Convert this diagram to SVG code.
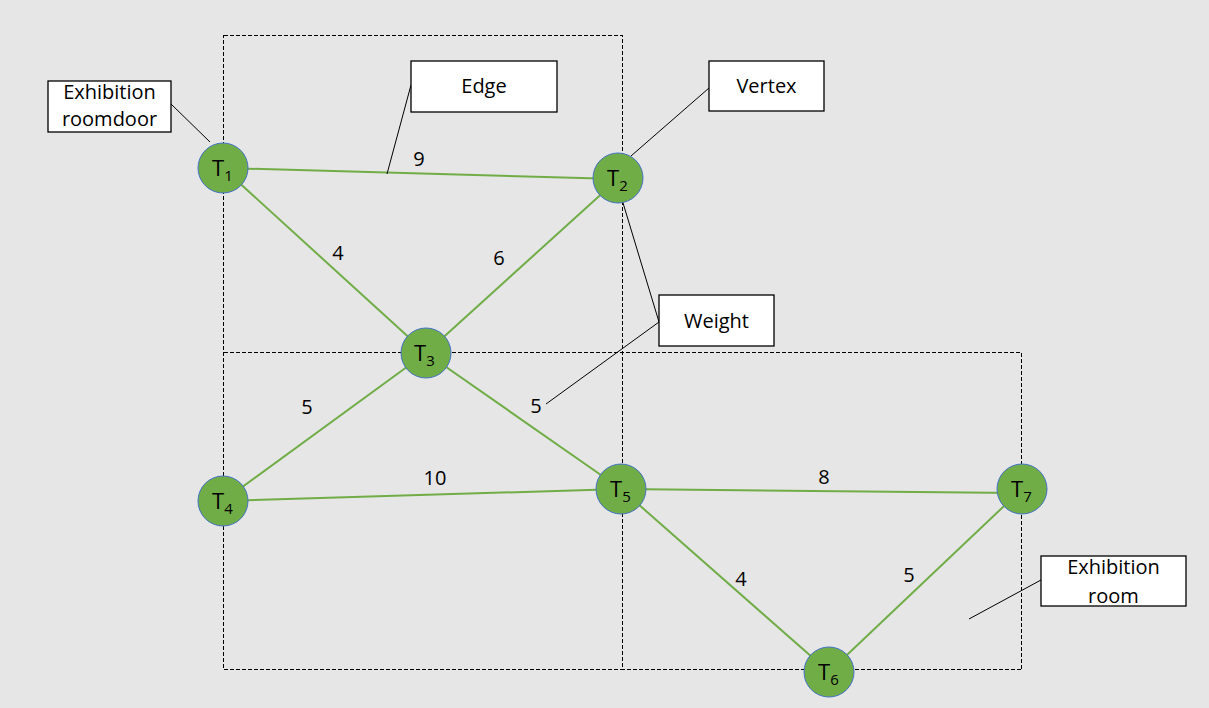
<svg xmlns="http://www.w3.org/2000/svg" width="1209" height="708" viewBox="0 0 1209 708">
<style>
.bg{fill:#e6e6e6}
.dash{fill:none;stroke:#000;stroke-width:1;stroke-dasharray:4,2;shape-rendering:crispEdges}
.edge{stroke:#70ad47;stroke-width:2;fill:none}
.lead{stroke:#000;stroke-width:1;fill:none}
.node circle{fill:#70ad47;stroke:#4472c4;stroke-width:1}
.box{fill:#fff;stroke:#000;stroke-width:1.3}
text{font-family:"Open Sans","Liberation Sans",sans-serif;fill:#000}
.lbl{font-size:20px;text-anchor:middle}
.w{font-size:20px;text-anchor:middle}
.nt{font-size:22px}
.sub{font-size:15px}
</style>
<rect class="bg" x="0" y="0" width="1209" height="708"/>
<g id="rooms">
<path class="dash" d="M223.5 35.5H622.5V669.5H223.5Z"/>
<path class="dash" d="M223.5 352.5H1021.5V669.5H622.5"/>
</g>
<g id="connectors">
<line class="edge" x1="223" y1="168" x2="618" y2="179"/>
<line class="edge" x1="223" y1="168" x2="426" y2="353"/>
<line class="edge" x1="618" y1="179" x2="426" y2="353"/>
<line class="edge" x1="426" y1="353" x2="223" y2="501"/>
<line class="edge" x1="426" y1="353" x2="621" y2="489"/>
<line class="edge" x1="223" y1="501" x2="621" y2="489"/>
<line class="edge" x1="621" y1="489" x2="1022" y2="493"/>
<line class="edge" x1="621" y1="489" x2="829" y2="672"/>
<line class="edge" x1="829" y1="672" x2="1022" y2="489"/>
<line class="lead" x1="171" y1="104" x2="210" y2="142"/>
<line class="lead" x1="411" y1="85" x2="387" y2="174"/>
<line class="lead" x1="709" y1="88" x2="631" y2="156"/>
<line class="lead" x1="659" y1="322" x2="617" y2="183"/>
<line class="lead" x1="659" y1="322" x2="546" y2="404"/>
<line class="lead" x1="1041" y1="580" x2="969" y2="619"/>
</g>
<g id="weights">
<text class="w" x="419" y="166">9</text>
<text class="w" x="338" y="260">4</text>
<text class="w" x="499" y="265">6</text>
<text class="w" x="307" y="414">5</text>
<text class="w" x="536" y="413">5</text>
<text class="w" x="435" y="485">10</text>
<text class="w" x="824" y="484">8</text>
<text class="w" x="741" y="586">4</text>
<text class="w" x="909" y="582">5</text>
</g>
<g id="T1" class="node"><circle cx="223" cy="168" r="25"/><text x="212" y="176" class="nt">T<tspan class="sub" dy="5">1</tspan></text></g>
<g id="T2" class="node"><circle cx="618" cy="178" r="25"/><text x="607" y="186" class="nt">T<tspan class="sub" dy="5">2</tspan></text></g>
<g id="T3" class="node"><circle cx="426" cy="353" r="25"/><text x="414" y="361" class="nt">T<tspan class="sub" dy="5">3</tspan></text></g>
<g id="T4" class="node"><circle cx="223" cy="501" r="25"/><text x="212" y="509" class="nt">T<tspan class="sub" dy="5">4</tspan></text></g>
<g id="T5" class="node"><circle cx="621" cy="489" r="25"/><text x="610" y="497" class="nt">T<tspan class="sub" dy="5">5</tspan></text></g>
<g id="T6" class="node"><circle cx="829" cy="672" r="25"/><text x="818" y="680" class="nt">T<tspan class="sub" dy="5">6</tspan></text></g>
<g id="T7" class="node"><circle cx="1022" cy="489" r="25"/><text x="1011" y="497" class="nt">T<tspan class="sub" dy="5">7</tspan></text></g>
<g id="label-door"><rect class="box" x="48" y="81" width="123" height="51"/><text class="lbl" x="109.5" y="99">Exhibition</text><text class="lbl" x="109.5" y="126">roomdoor</text></g>
<g id="label-edge"><rect class="box" x="411" y="61" width="146" height="51"/><text class="lbl" x="484" y="93">Edge</text></g>
<g id="label-vertex"><rect class="box" x="709" y="61" width="115" height="50"/><text class="lbl" x="766.5" y="93">Vertex</text></g>
<g id="label-weight"><rect class="box" x="659" y="295" width="115" height="51"/><text class="lbl" x="716.5" y="328">Weight</text></g>
<g id="label-room"><rect class="box" x="1041" y="556" width="145" height="50"/><text class="lbl" x="1113.5" y="574">Exhibition</text><text class="lbl" x="1113.5" y="603">room</text></g>
</svg>
